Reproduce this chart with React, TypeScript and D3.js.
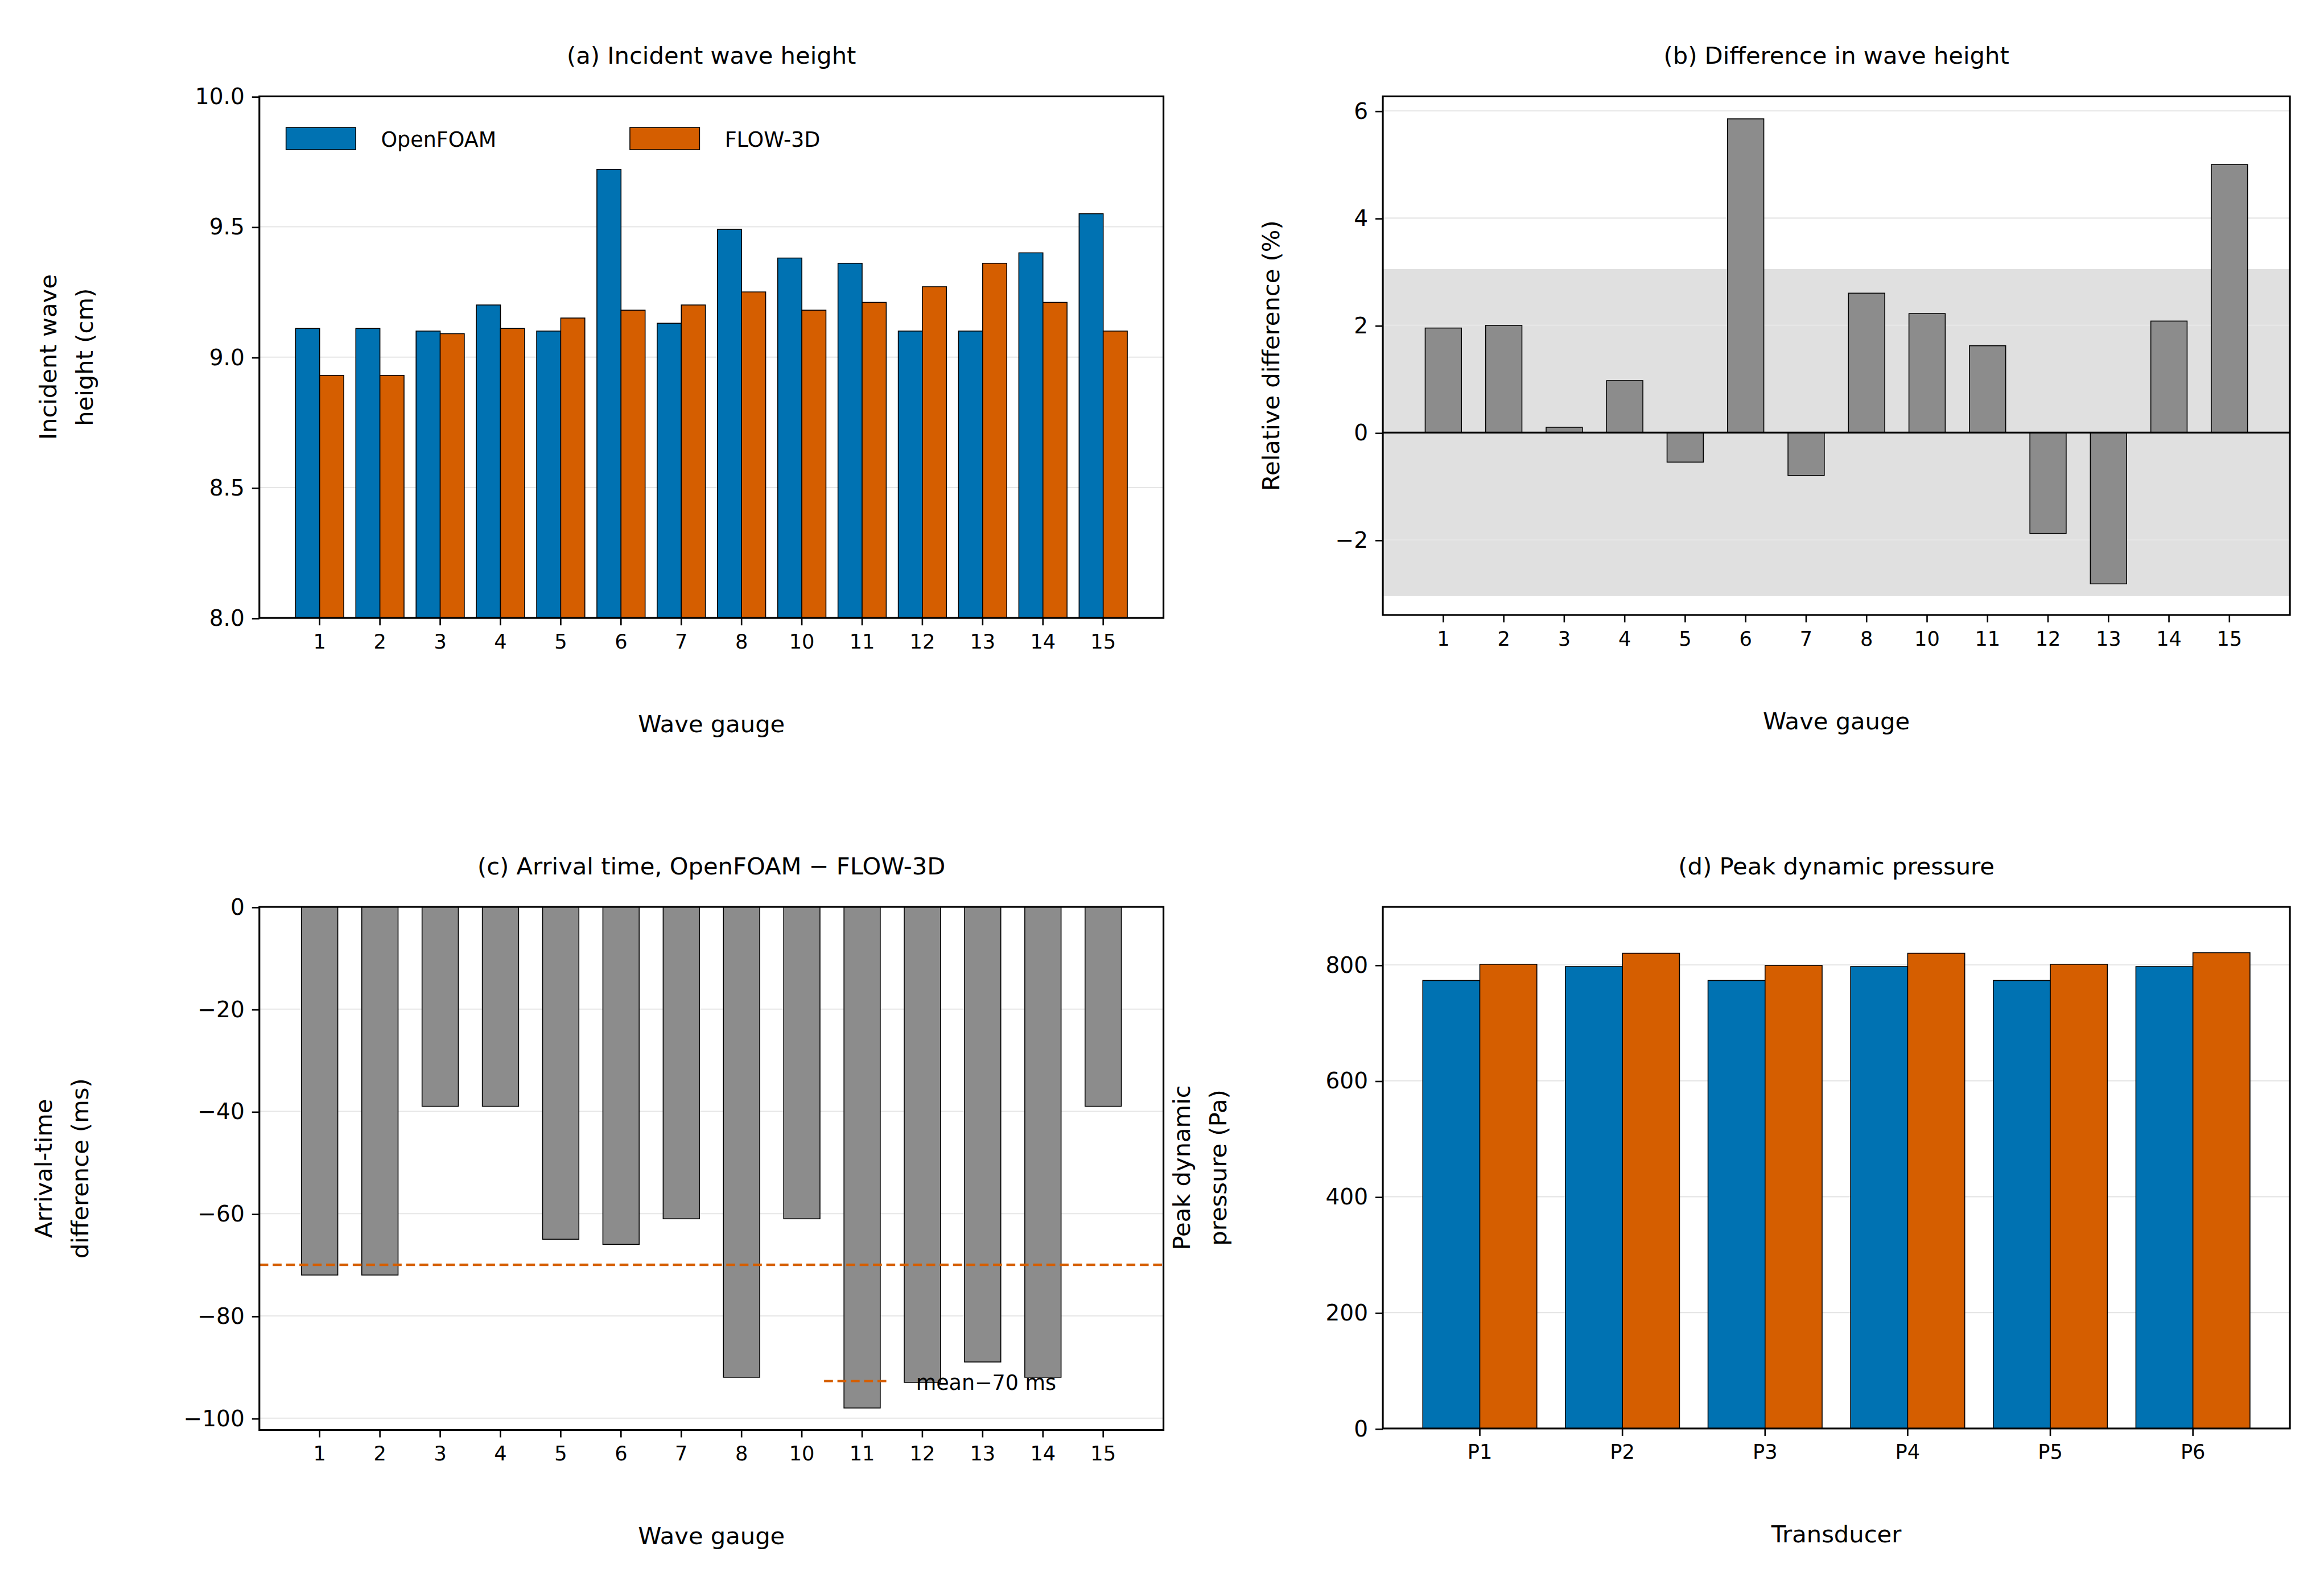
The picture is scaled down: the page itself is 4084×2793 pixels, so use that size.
import { useEffect, useRef } from 'react';
import * as d3 from 'd3';

const gauges = ['1', '2', '3', '4', '5', '6', '7', '8', '10', '11', '12', '13', '14', '15'];
const openfoamH = [9.11, 9.11, 9.10, 9.20, 9.10, 9.72, 9.13, 9.49, 9.38, 9.36, 9.10, 9.10, 9.40, 9.55];
const flow3dH = [8.93, 8.93, 9.09, 9.11, 9.15, 9.18, 9.20, 9.25, 9.18, 9.21, 9.27, 9.36, 9.21, 9.10];
const relDiff = [1.95, 2.0, 0.1, 0.97, -0.55, 5.85, -0.8, 2.6, 2.22, 1.62, -1.88, -2.82, 2.08, 5.0];
const arrivalDiff = [-72, -72, -39, -39, -65, -66, -61, -92, -61, -98, -93, -89, -92, -39];
const meanArrival = -70;
const bandLimit = 3.05;
const transducers = ['P1', 'P2', 'P3', 'P4', 'P5', 'P6'];
const openfoamP = [773, 797, 773, 797, 773, 797];
const flow3dP = [801, 820, 799, 820, 801, 821];

const BLUE = '#0072B2';
const ORANGE = '#D55E00';
const GRAY = '#8c8c8c';
const FONT = 'DejaVu Sans, sans-serif';

type Box = { x0: number; x1: number; y0: number; y1: number };

const App = () => {
    const svgRef = useRef<SVGSVGElement>(null);

    useEffect(() => {
        if (!svgRef.current) return;
        const svg = d3.select(svgRef.current);
        svg.selectAll('*').remove();

        // common axes frame
        const frame = (b: Box, y: d3.ScaleLinear<number, number>, ticks: number[], fmt: (v: number) => string,
            x: d3.ScaleBand<string>, title: string, xlabel: string, ylabel: string[], ylx: number) => {
            const g = svg.append('g');
            // grid
            g.selectAll('.grid').data(ticks).enter().append('line')
                .attr('x1', b.x0).attr('x2', b.x1).attr('y1', d => y(d)).attr('y2', d => y(d))
                .attr('stroke', '#e6e6e6').attr('stroke-width', 0.8);
            const ya = g.append('g').attr('transform', `translate(${b.x0},0)`)
                .call(d3.axisLeft(y).tickValues(ticks).tickFormat(d => fmt(+d)).tickSize(5).tickPadding(5));
            ya.select('.domain').remove();
            ya.selectAll('text').attr('font-family', FONT).attr('font-size', 15).attr('fill', '#000');
            const xa = g.append('g').attr('transform', `translate(0,${b.y1})`)
                .call(d3.axisBottom(x).tickSize(5).tickPadding(6));
            xa.select('.domain').remove();
            xa.selectAll('text').attr('font-family', FONT).attr('font-size', 13.5).attr('fill', '#000');
            g.append('text').attr('x', (b.x0 + b.x1) / 2).attr('y', b.y0 - 22).attr('text-anchor', 'middle')
                .attr('font-family', FONT).attr('font-size', 16).text(title);
            g.append('text').attr('x', (b.x0 + b.x1) / 2).attr('y', b.y1 + 77).attr('text-anchor', 'middle')
                .attr('font-family', FONT).attr('font-size', 16).text(xlabel);
            const yl = g.append('text').attr('transform', `translate(${ylx},${(b.y0 + b.y1) / 2}) rotate(-90)`)
                .attr('text-anchor', 'middle').attr('font-family', FONT).attr('font-size', 16);
            ylabel.forEach((l, i) => yl.append('tspan').attr('x', 0).attr('dy', i === 0 ? 0 : 24.5).text(l));
            return g;
        };
        const border = (b: Box) => svg.append('rect').attr('x', b.x0).attr('y', b.y0)
            .attr('width', b.x1 - b.x0).attr('height', b.y1 - b.y0).attr('fill', 'none')
            .attr('stroke', '#000').attr('stroke-width', 1.2);

        // (a)
        const A: Box = { x0: 175, x1: 785, y0: 65, y1: 417 };
        const xa = d3.scaleBand().domain(gauges).range([A.x0, A.x1]).paddingInner(0).paddingOuter(0.5);
        const ya = d3.scaleLinear().domain([8, 10]).range([A.y1, A.y0]);
        const ga = frame(A, ya, [8, 8.5, 9, 9.5, 10], d => d.toFixed(1), xa, '(a) Incident wave height', 'Wave gauge',
            ['Incident wave', 'height (cm)'], 38);
        const bwA = xa.step() * 0.4;
        [[openfoamH, BLUE, -1], [flow3dH, ORANGE, 0]].forEach(([vals, col, off]) => {
            ga.selectAll(null).data(vals as number[]).enter().append('rect')
                .attr('x', (_, i) => xa(gauges[i])! + xa.bandwidth() / 2 + (off as number) * bwA)
                .attr('y', d => ya(d)).attr('width', bwA).attr('height', d => ya(8) - ya(d))
                .attr('fill', col as string).attr('stroke', '#000').attr('stroke-width', 0.6);
        });
        const leg = [['OpenFOAM', BLUE, 193], ['FLOW-3D', ORANGE, 425]];
        leg.forEach(([t, c, x]) => {
            ga.append('rect').attr('x', x as number).attr('y', 86).attr('width', 47).attr('height', 15)
                .attr('fill', c as string).attr('stroke', '#000').attr('stroke-width', 0.6);
            ga.append('text').attr('x', (x as number) + 64).attr('y', 99).attr('font-family', FONT)
                .attr('font-size', 14).text(t as string);
        });
        border(A);

        // (b)
        const B: Box = { x0: 933, x1: 1545, y0: 65, y1: 415 };
        const xb = d3.scaleBand().domain(gauges).range([B.x0, B.x1]).paddingInner(0).paddingOuter(0.5);
        const yb = d3.scaleLinear().domain([-3.4, 6.27]).range([B.y1, B.y0]);
        svg.append('rect').attr('x', B.x0).attr('width', B.x1 - B.x0).attr('y', yb(bandLimit))
            .attr('height', yb(-bandLimit) - yb(bandLimit)).attr('fill', '#e0e0e0');
        const gb = frame(B, yb, [-2, 0, 2, 4, 6], d => d < 0 ? `\u2212${-d}` : `${d}`, xb,
            '(b) Difference in wave height', 'Wave gauge', ['Relative difference (%)'], 863);
        const bwB = xb.step() * 0.6;
        gb.selectAll(null).data(relDiff).enter().append('rect')
            .attr('x', (_, i) => xb(gauges[i])! + (xb.bandwidth() - bwB) / 2)
            .attr('y', d => yb(Math.max(0, d))).attr('width', bwB).attr('height', d => Math.abs(yb(d) - yb(0)))
            .attr('fill', GRAY).attr('stroke', '#000').attr('stroke-width', 0.6);
        gb.append('line').attr('x1', B.x0).attr('x2', B.x1).attr('y1', yb(0)).attr('y2', yb(0))
            .attr('stroke', '#000').attr('stroke-width', 1.2);
        border(B);

        // (c)
        const C: Box = { x0: 175, x1: 785, y0: 612, y1: 965 };
        const xc = d3.scaleBand().domain(gauges).range([C.x0, C.x1]).paddingInner(0).paddingOuter(0.5);
        const yc = d3.scaleLinear().domain([-102.3, 0]).range([C.y1, C.y0]);
        const gc = frame(C, yc, [0, -20, -40, -60, -80, -100], d => d < 0 ? `\u2212${-d}` : `${d}`, xc,
            '(c) Arrival time, OpenFOAM \u2212 FLOW-3D', 'Wave gauge', ['Arrival-time', 'difference (ms)'], 35);
        gc.selectAll(null).data(arrivalDiff).enter().append('rect')
            .attr('x', (_, i) => xc(gauges[i])! + (xc.bandwidth() - bwB) / 2)
            .attr('y', yc(0)).attr('width', bwB).attr('height', d => yc(d) - yc(0))
            .attr('fill', GRAY).attr('stroke', '#000').attr('stroke-width', 0.6);
        gc.append('line').attr('x1', C.x0).attr('x2', C.x1).attr('y1', yc(meanArrival)).attr('y2', yc(meanArrival))
            .attr('stroke', ORANGE).attr('stroke-width', 1.6).attr('stroke-dasharray', '6,3');
        gc.append('line').attr('x1', 556).attr('x2', 600).attr('y1', 932).attr('y2', 932)
            .attr('stroke', ORANGE).attr('stroke-width', 1.6).attr('stroke-dasharray', '6,3');
        gc.append('text').attr('x', 618).attr('y', 938).attr('font-family', FONT).attr('font-size', 14)
            .text(`mean\u2212${-meanArrival} ms`);
        border(C);

        // (d)
        const D: Box = { x0: 933, x1: 1545, y0: 612, y1: 964 };
        const xd = d3.scaleBand().domain(transducers).range([D.x0, D.x1]).paddingInner(0).paddingOuter(0.18);
        const yd = d3.scaleLinear().domain([0, 900]).range([D.y1, D.y0]);
        const gd = frame(D, yd, [0, 200, 400, 600, 800], d => `${d}`, xd, '(d) Peak dynamic pressure', 'Transducer',
            ['Peak dynamic', 'pressure (Pa)'], 803);
        const bwD = xd.step() * 0.4;
        [[openfoamP, BLUE, -1], [flow3dP, ORANGE, 0]].forEach(([vals, col, off]) => {
            gd.selectAll(null).data(vals as number[]).enter().append('rect')
                .attr('x', (_, i) => xd(transducers[i])! + xd.bandwidth() / 2 + (off as number) * bwD)
                .attr('y', d => yd(d)).attr('width', bwD).attr('height', d => yd(0) - yd(d))
                .attr('fill', col as string).attr('stroke', '#000').attr('stroke-width', 0.6);
        });
        border(D);
    }, []);

    return (
        <svg ref={svgRef} viewBox="0 0 1568 1072.3" width={4084} height={2793}
            style={{ position: 'absolute', left: 0, top: 0, background: '#fff' }} />
    );
};

export default App;
